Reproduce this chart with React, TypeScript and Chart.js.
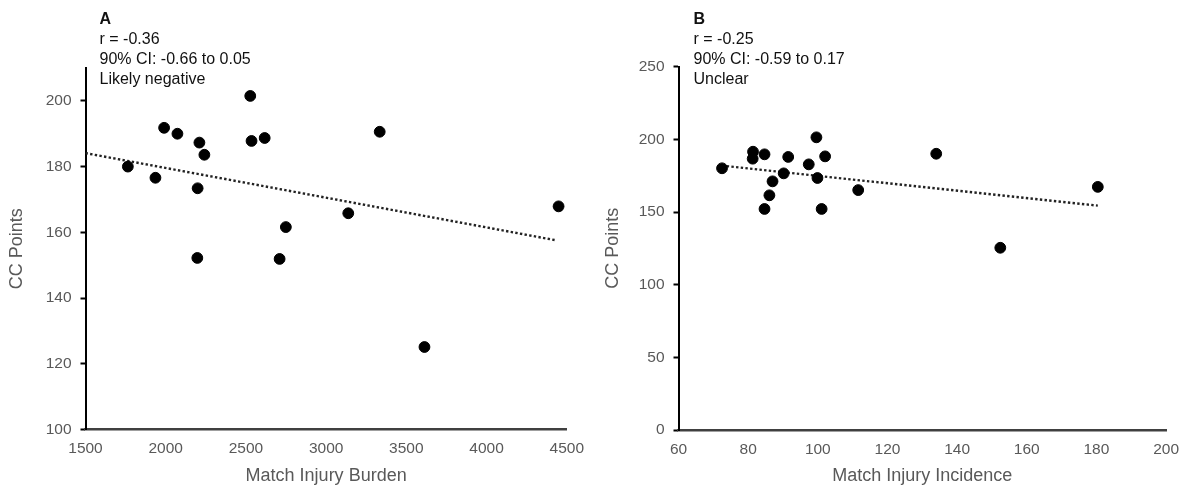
import React, { useEffect, useRef } from "react";
import { Chart, registerables } from "chart.js";

Chart.register(...registerables);

// ---------- Data ----------
const burdenX = [1764, 1936, 1990, 2073, 2197, 2199, 2210, 2241, 2527, 2535, 2617, 2710, 2749, 3138, 3334, 3613, 4449];
const burdenY = [180.0, 176.6, 191.8, 190.0, 152.2, 173.4, 187.3, 183.6, 201.5, 187.8, 188.7, 151.9, 161.6, 165.8, 190.6, 125.1, 167.9];
const burdenTrendX = [1500, 4430];
const burdenTrendY = [184.1, 157.6];
const burdenNotes = ["r = -0.36", "90% CI: -0.66 to 0.05", "Likely negative"];

const incidenceX = [72.5, 81.4, 81.3, 84.7, 91.5, 90.2, 87.0, 86.1, 84.7, 97.4, 99.6, 99.9, 102.1, 101.1, 111.6, 134.0, 152.4, 180.4];
const incidenceY = [180.1, 191.5, 186.7, 189.7, 187.9, 176.6, 171.1, 161.5, 152.1, 182.8, 201.4, 173.4, 188.3, 152.1, 165.1, 190.1, 125.4, 167.3];
const incidenceTrendX = [72.5, 180.4];
const incidenceTrendY = [181.9, 154.4];
const incidenceNotes = ["r = -0.25", "90% CI: -0.59 to 0.17", "Unclear"];

const FONT = '"Liberation Sans", Arial, sans-serif';
const TICK_COLOR = "#595959";

type PanelProps = {
  letter: string;
  notes: string[];
  xs: number[];
  ys: number[];
  tx: number[];
  ty: number[];
  xTitle: string;
  xMin: number;
  xMax: number;
  xStep: number;
  yMin: number;
  yMax: number;
  yStep: number;
  yTickMax: number;
  width: number;
  left: number;
  yAxisWidth: number;
  padRight: number;
  padTop: number;
  xAxisHeight: number;
  yTitlePad: number;
};

function Panel(p: PanelProps) {
  const ref = useRef<HTMLCanvasElement | null>(null);
  useEffect(() => {
    if (!ref.current) return;
    const notesPlugin = {
      id: "notes" + p.letter,
      afterDraw(chart: any) {
        const ctx = chart.ctx;
        ctx.save();
        ctx.fillStyle = "#111";
        ctx.textBaseline = "middle";
        ctx.textAlign = "left";
        ctx.font = `bold 16px ${FONT}`;
        ctx.fillText(p.letter, 99.5, 19.5);
        ctx.font = `16px ${FONT}`;
        p.notes.forEach((t, i) => ctx.fillText(t, 99.5, 39.5 + i * 19.8));
        ctx.restore();
      },
    };
    const chart = new Chart(ref.current, {
      type: "scatter",
      data: {
        datasets: [
          {
            data: p.xs.map((x, i) => ({ x, y: p.ys[i] })),
            backgroundColor: "#000",
            borderColor: "#000",
            pointRadius: 5.4,
            pointHoverRadius: 5.4,
            order: 1,
          },
          {
            type: "line",
            data: p.tx.map((x, i) => ({ x, y: p.ty[i] })),
            borderColor: "#222",
            borderWidth: 2.4,
            borderDash: [2.4, 2.3],
            pointRadius: 0,
            fill: false,
            order: 2,
          } as any,
        ],
      },
      options: {
        animation: false,
        responsive: false,
        maintainAspectRatio: false,
        layout: { padding: { left: 0, right: p.padRight, top: p.padTop, bottom: 0 } },
        plugins: { legend: { display: false }, tooltip: { enabled: false } },
        scales: {
          x: {
            type: "linear",
            min: p.xMin,
            max: p.xMax,
            ticks: {
              stepSize: p.xStep,
              color: TICK_COLOR,
              font: { family: FONT, size: 15.5 },
              padding: 10,
              maxRotation: 0,
              callback: (v: any) => String(v),
            },
            grid: { drawOnChartArea: false, drawTicks: false },
            border: { display: true, color: "#404040", width: 2.5 },
            title: {
              display: true,
              text: p.xTitle,
              color: TICK_COLOR,
              font: { family: FONT, size: 18 },
              padding: { top: 0, bottom: 0 },
            },
            afterFit: (s: any) => {
              s.height = p.xAxisHeight;
            },
          },
          y: {
            type: "linear",
            min: p.yMin,
            max: p.yMax,
            ticks: {
              stepSize: p.yStep,
              color: TICK_COLOR,
              font: { family: FONT, size: 15.5 },
              padding: 9,
              callback: (v: any) => String(v),
            },
            afterBuildTicks: (s: any) => {
              s.ticks = s.ticks.filter((t: any) => t.value <= p.yTickMax);
            },
            grid: { drawOnChartArea: false, drawTicks: true, tickLength: 5, tickColor: "#000", tickWidth: 2 },
            border: { display: true, color: "#000", width: 2 },
            title: {
              display: true,
              text: "CC Points",
              color: TICK_COLOR,
              font: { family: FONT, size: 18 },
              padding: { top: p.yTitlePad, bottom: 0 },
            },
            afterFit: (s: any) => {
              s.width = p.yAxisWidth;
            },
          },
        },
      } as any,
      plugins: [notesPlugin],
    });
    return () => chart.destroy();
  }, []);
  return (
    <canvas
      ref={ref}
      width={p.width}
      height={487}
      style={{ position: "absolute", left: p.left, top: 0, width: p.width, height: 487 }}
    />
  );
}

export default function App() {
  return (
    <div style={{ position: "fixed", left: 0, top: 0, width: 1189, height: 487, background: "#fff" }}>
      <Panel
        letter="A"
        notes={burdenNotes}
        xs={burdenX}
        ys={burdenY}
        tx={burdenTrendX}
        ty={burdenTrendY}
        xTitle="Match Injury Burden"
        xMin={1500}
        xMax={4500}
        xStep={500}
        yMin={100}
        yMax={210}
        yStep={20}
        yTickMax={200}
        width={594}
        left={0}
        yAxisWidth={85.5}
        padRight={26.5}
        padTop={68}
        xAxisHeight={57.5}
        yTitlePad={6}
      />
      <Panel
        letter="B"
        notes={incidenceNotes}
        xs={incidenceX}
        ys={incidenceY}
        tx={incidenceTrendX}
        ty={incidenceTrendY}
        xTitle="Match Injury Incidence"
        xMin={60}
        xMax={200}
        xStep={20}
        yMin={0}
        yMax={250}
        yStep={50}
        yTickMax={250}
        width={595}
        left={594}
        yAxisWidth={84.5}
        padRight={20.7}
        padTop={66.7}
        xAxisHeight={57}
        yTitlePad={8.5}
      />
    </div>
  );
}
